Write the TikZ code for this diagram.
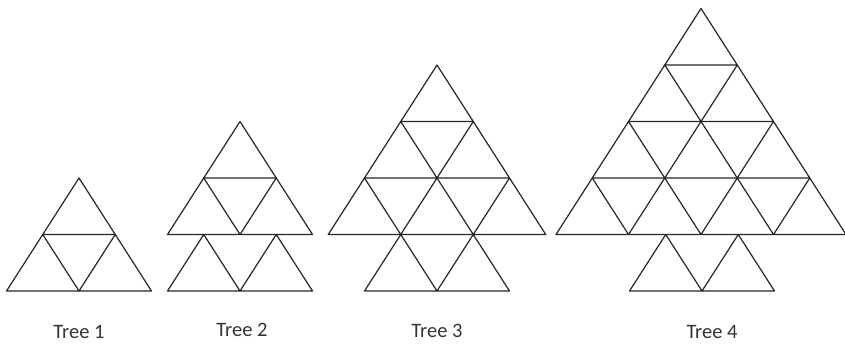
\documentclass[tikz,border=0pt]{standalone}
\usepackage{fontspec}
\setmainfont{Carlito}
\begin{document}
\begin{tikzpicture}[
    x=1pt, y=-1pt,
    tri/.style = {draw=black!85, line width=1.2pt, line join=round},
    treelabel/.style = {anchor=base, text=black!80, inner sep=0pt, font=\fontsize{20.5}{24}\selectfont}]

    \useasboundingbox (0,0) rectangle (845,346);

    % crowns: rows of upward triangles
    \foreach \cx/\top/\n in {79/178/2, 240/121.5/2, 437/65/3, 701/8.5/4} {
        \foreach \r in {1,...,\n} {
            \foreach \i in {1,...,\r} {
                \pgfmathsetmacro{\ax}{\cx + (\i - (\r+1)/2)*72.5}
                \pgfmathsetmacro{\ay}{\top + (\r-1)*56.5}
                \draw[tri] (\ax,\ay) -- ++(36.25,56.5) -- ++(-72.5,0) -- cycle;
            }
        }
    }

    % trunks
    \foreach \cx in {240, 437, 702} {
        \draw[tri] (\cx-36.25,234.5) -- ++(36.25,56.5) -- ++(-72.5,0) -- cycle;
        \draw[tri] (\cx+36.25,234.5) -- ++(36.25,56.5) -- ++(-72.5,0) -- cycle;
    }

    \node[treelabel] (lab1) at (79,338) {Tree 1};
    \node[treelabel] (lab2) at (242,336.5) {Tree 2};
    \node[treelabel] (lab3) at (437,337) {Tree 3};
    \node[treelabel] (lab4) at (712,338) {Tree 4};
\end{tikzpicture}
\end{document}
